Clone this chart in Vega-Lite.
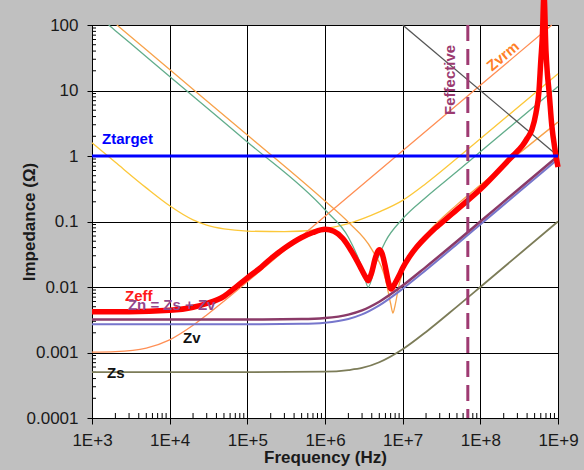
{
  "$schema": "https://vega.github.io/schema/vega-lite/v6.json",
  "width": 466,
  "height": 393,
  "autosize": {"type": "none"},
  "padding": {"left": 92, "top": 25, "right": 26, "bottom": 52},
  "background": "#c0c0c0",
  "config": {
    "view": {"stroke": "#000000", "strokeWidth": 1, "fill": "#ffffff"},
    "line": {"clip": true, "interpolate": "monotone"},
    "text": {"font": "Liberation Sans", "fontSize": 15, "fontWeight": "bold"}
  },
  "resolve": {"axis": {"x": "independent", "y": "independent"}, "scale": {"color": "independent"}},
  "datasets": {
    "curves": [
      {"s": "yel", "f": 1000, "z": 1.59},
      {"s": "yel", "f": 2000, "z": 0.8},
      {"s": "yel", "f": 5000, "z": 0.326},
      {"s": "yel", "f": 10000, "z": 0.174},
      {"s": "yel", "f": 20000, "z": 0.106},
      {"s": "yel", "f": 30000, "z": 0.088},
      {"s": "yel", "f": 50000, "z": 0.077},
      {"s": "yel", "f": 100000, "z": 0.0715},
      {"s": "yel", "f": 300000, "z": 0.07},
      {"s": "yel", "f": 1000000, "z": 0.078},
      {"s": "yel", "f": 2000000, "z": 0.093},
      {"s": "yel", "f": 5000000, "z": 0.14},
      {"s": "yel", "f": 10000000, "z": 0.21},
      {"s": "yel", "f": 20000000, "z": 0.38},
      {"s": "yel", "f": 50000000, "z": 0.92},
      {"s": "yel", "f": 100000000, "z": 1.83},
      {"s": "yel", "f": 1000000000, "z": 18},
      {"s": "teal", "f": 1640, "z": 100},
      {"s": "teal", "f": 2000, "z": 82},
      {"s": "teal", "f": 5000, "z": 32.8},
      {"s": "teal", "f": 10000, "z": 16.4},
      {"s": "teal", "f": 100000, "z": 1.64},
      {"s": "teal", "f": 1000000, "z": 0.151},
      {"s": "teal", "f": 2000000, "z": 0.0576},
      {"s": "teal", "f": 3000000, "z": 0.0195},
      {"s": "teal", "f": 3600000, "z": 0.01},
      {"s": "teal", "f": 4500000, "z": 0.0227},
      {"s": "teal", "f": 6000000, "z": 0.0495},
      {"s": "teal", "f": 10000000, "z": 0.11},
      {"s": "teal", "f": 20000000, "z": 0.235},
      {"s": "teal", "f": 50000000, "z": 0.58},
      {"s": "teal", "f": 100000000, "z": 1.16},
      {"s": "teal", "f": 1000000000, "z": 11.5},
      {"s": "org", "f": 2090, "z": 100},
      {"s": "org", "f": 5000, "z": 41.9},
      {"s": "org", "f": 10000, "z": 20.9},
      {"s": "org", "f": 100000, "z": 2.09},
      {"s": "org", "f": 1000000, "z": 0.205},
      {"s": "org", "f": 2000000, "z": 0.0973},
      {"s": "org", "f": 4000000, "z": 0.0376},
      {"s": "org", "f": 6000000, "z": 0.0132},
      {"s": "org", "f": 7000000, "z": 0.0056},
      {"s": "org", "f": 7500000, "z": 0.004},
      {"s": "org", "f": 8000000, "z": 0.0053},
      {"s": "org", "f": 9000000, "z": 0.0109},
      {"s": "org", "f": 10000000, "z": 0.0167},
      {"s": "org", "f": 15000000, "z": 0.0417},
      {"s": "org", "f": 20000000, "z": 0.0637},
      {"s": "org", "f": 50000000, "z": 0.181},
      {"s": "org", "f": 100000000, "z": 0.36},
      {"s": "org", "f": 1000000000, "z": 3.3},
      {"s": "Zvrm", "f": 1000, "z": 0.00101},
      {"s": "Zvrm", "f": 2000, "z": 0.00103},
      {"s": "Zvrm", "f": 5000, "z": 0.00117},
      {"s": "Zvrm", "f": 10000, "z": 0.00156},
      {"s": "Zvrm", "f": 20000, "z": 0.0026},
      {"s": "Zvrm", "f": 30000, "z": 0.00374},
      {"s": "Zvrm", "f": 50000, "z": 0.00608},
      {"s": "Zvrm", "f": 100000, "z": 0.012},
      {"s": "Zvrm", "f": 1000000, "z": 0.12},
      {"s": "Zvrm", "f": 10000000, "z": 1.2},
      {"s": "Zvrm", "f": 100000000, "z": 12},
      {"s": "Zvrm", "f": 833000000, "z": 100},
      {"s": "diag", "f": 10000000, "z": 100},
      {"s": "diag", "f": 1000000000, "z": 1},
      {"s": "Zs", "f": 1000, "z": 0.0005},
      {"s": "Zs", "f": 100000, "z": 0.0005},
      {"s": "Zs", "f": 1000000, "z": 0.00051},
      {"s": "Zs", "f": 2000000, "z": 0.00054},
      {"s": "Zs", "f": 3000000, "z": 0.00058},
      {"s": "Zs", "f": 5000000, "z": 0.00071},
      {"s": "Zs", "f": 10000000, "z": 0.00112},
      {"s": "Zs", "f": 20000000, "z": 0.00206},
      {"s": "Zs", "f": 50000000, "z": 0.00502},
      {"s": "Zs", "f": 100000000, "z": 0.01},
      {"s": "Zs", "f": 1000000000, "z": 0.1},
      {"s": "Zv", "f": 1000, "z": 0.0027},
      {"s": "Zv", "f": 100000, "z": 0.0027},
      {"s": "Zv", "f": 500000, "z": 0.00274},
      {"s": "Zv", "f": 1000000, "z": 0.00285},
      {"s": "Zv", "f": 2000000, "z": 0.00325},
      {"s": "Zv", "f": 3000000, "z": 0.00382},
      {"s": "Zv", "f": 5000000, "z": 0.00525},
      {"s": "Zv", "f": 10000000, "z": 0.0094},
      {"s": "Zv", "f": 20000000, "z": 0.0182},
      {"s": "Zv", "f": 50000000, "z": 0.045},
      {"s": "Zv", "f": 100000000, "z": 0.09},
      {"s": "Zv", "f": 300000000, "z": 0.27},
      {"s": "Zv", "f": 1000000000, "z": 0.9},
      {"s": "Zn", "f": 1000, "z": 0.0032},
      {"s": "Zn", "f": 100000, "z": 0.0032},
      {"s": "Zn", "f": 500000, "z": 0.00324},
      {"s": "Zn", "f": 1000000, "z": 0.00336},
      {"s": "Zn", "f": 2000000, "z": 0.00379},
      {"s": "Zn", "f": 3000000, "z": 0.0044},
      {"s": "Zn", "f": 5000000, "z": 0.00596},
      {"s": "Zn", "f": 10000000, "z": 0.0105},
      {"s": "Zn", "f": 20000000, "z": 0.0203},
      {"s": "Zn", "f": 50000000, "z": 0.05},
      {"s": "Zn", "f": 100000000, "z": 0.1},
      {"s": "Zn", "f": 300000000, "z": 0.3},
      {"s": "Zn", "f": 1000000000, "z": 1.0},
      {"s": "Zeff", "f": 1000, "z": 0.0042},
      {"s": "Zeff", "f": 3000, "z": 0.0042},
      {"s": "Zeff", "f": 10000, "z": 0.0044},
      {"s": "Zeff", "f": 20000, "z": 0.0049},
      {"s": "Zeff", "f": 30000, "z": 0.0056},
      {"s": "Zeff", "f": 50000, "z": 0.0072},
      {"s": "Zeff", "f": 70000, "z": 0.0098},
      {"s": "Zeff", "f": 100000, "z": 0.0138},
      {"s": "Zeff", "f": 150000, "z": 0.02},
      {"s": "Zeff", "f": 200000, "z": 0.027},
      {"s": "Zeff", "f": 300000, "z": 0.039},
      {"s": "Zeff", "f": 500000, "z": 0.057},
      {"s": "Zeff", "f": 700000, "z": 0.068},
      {"s": "Zeff", "f": 1000000, "z": 0.076},
      {"s": "Zeff", "f": 1300000, "z": 0.071},
      {"s": "Zeff", "f": 1700000, "z": 0.055},
      {"s": "Zeff", "f": 2200000, "z": 0.035},
      {"s": "Zeff", "f": 2800000, "z": 0.021},
      {"s": "Zeff", "f": 3300000, "z": 0.0145},
      {"s": "Zeff", "f": 3600000, "z": 0.0125},
      {"s": "Zeff", "f": 3950000, "z": 0.016},
      {"s": "Zeff", "f": 4500000, "z": 0.029},
      {"s": "Zeff", "f": 5000000, "z": 0.037},
      {"s": "Zeff", "f": 5400000, "z": 0.033},
      {"s": "Zeff", "f": 6000000, "z": 0.02},
      {"s": "Zeff", "f": 6600000, "z": 0.0115},
      {"s": "Zeff", "f": 7100000, "z": 0.0093},
      {"s": "Zeff", "f": 8000000, "z": 0.0115},
      {"s": "Zeff", "f": 9000000, "z": 0.015},
      {"s": "Zeff", "f": 10000000, "z": 0.0195},
      {"s": "Zeff", "f": 12000000, "z": 0.028},
      {"s": "Zeff", "f": 15000000, "z": 0.04},
      {"s": "Zeff", "f": 20000000, "z": 0.058},
      {"s": "Zeff", "f": 25000000, "z": 0.075},
      {"s": "Zeff", "f": 30000000, "z": 0.09},
      {"s": "Zeff", "f": 50000000, "z": 0.152},
      {"s": "Zeff", "f": 100000000, "z": 0.31},
      {"s": "Zeff", "f": 200000000, "z": 0.72},
      {"s": "Zeff", "f": 260000000, "z": 1.0},
      {"s": "Zeff", "f": 350000000, "z": 1.45},
      {"s": "Zeff", "f": 400000000, "z": 1.85},
      {"s": "Zeff", "f": 460000000, "z": 2.5},
      {"s": "Zeff", "f": 520000000, "z": 4.5},
      {"s": "Zeff", "f": 570000000, "z": 10},
      {"s": "Zeff", "f": 600000000, "z": 28},
      {"s": "Zeff", "f": 630000000, "z": 70},
      {"s": "Zeff", "f": 660000000, "z": 300},
      {"s": "Zeff", "f": 700000000, "z": 40},
      {"s": "Zeff", "f": 730000000, "z": 18},
      {"s": "Zeff", "f": 765000000, "z": 10},
      {"s": "Zeff", "f": 830000000, "z": 3.0},
      {"s": "Zeff", "f": 920000000, "z": 1.2},
      {"s": "Zeff", "f": 1000000000, "z": 0.68},
      {"s": "Zt", "f": 1000, "z": 1},
      {"s": "Zt", "f": 1000000000, "z": 1}
    ],
    "labels": [
      {"t": "Ztarget", "f": 1350, "z": 1.82},
      {"t": "Zeff", "f": 2660, "z": 0.0073},
      {"t": "Zn = Zs + Zv", "f": 2900, "z": 0.0053},
      {"t": "Zv", "f": 14900, "z": 0.00167},
      {"t": "Zs", "f": 1560, "z": 0.00049},
      {"t": "Zvrm", "f": 195000000, "z": 33.6},
      {"t": "Feffective", "f": 41000000, "z": 14.5}
    ],
    "feff": [{"f": 69000000}],
    "xminor": [
      {"f": 2000}, {"f": 3000}, {"f": 4000}, {"f": 5000}, {"f": 6000}, {"f": 7000}, {"f": 8000}, {"f": 9000},
      {"f": 20000}, {"f": 30000}, {"f": 40000}, {"f": 50000}, {"f": 60000}, {"f": 70000}, {"f": 80000}, {"f": 90000},
      {"f": 200000}, {"f": 300000}, {"f": 400000}, {"f": 500000}, {"f": 600000}, {"f": 700000}, {"f": 800000}, {"f": 900000},
      {"f": 2000000}, {"f": 3000000}, {"f": 4000000}, {"f": 5000000}, {"f": 6000000}, {"f": 7000000}, {"f": 8000000}, {"f": 9000000},
      {"f": 20000000}, {"f": 30000000}, {"f": 40000000}, {"f": 50000000}, {"f": 60000000}, {"f": 70000000}, {"f": 80000000}, {"f": 90000000},
      {"f": 200000000}, {"f": 300000000}, {"f": 400000000}, {"f": 500000000}, {"f": 600000000}, {"f": 700000000}, {"f": 800000000}, {"f": 900000000}
    ],
    "yminor": [
      {"z": 0.0002}, {"z": 0.0003}, {"z": 0.0004}, {"z": 0.0005}, {"z": 0.0006}, {"z": 0.0007}, {"z": 0.0008}, {"z": 0.0009},
      {"z": 0.002}, {"z": 0.003}, {"z": 0.004}, {"z": 0.005}, {"z": 0.006}, {"z": 0.007}, {"z": 0.008}, {"z": 0.009},
      {"z": 0.02}, {"z": 0.03}, {"z": 0.04}, {"z": 0.05}, {"z": 0.06}, {"z": 0.07}, {"z": 0.08}, {"z": 0.09},
      {"z": 0.2}, {"z": 0.3}, {"z": 0.4}, {"z": 0.5}, {"z": 0.6}, {"z": 0.7}, {"z": 0.8}, {"z": 0.9},
      {"z": 2}, {"z": 3}, {"z": 4}, {"z": 5}, {"z": 6}, {"z": 7}, {"z": 8}, {"z": 9},
      {"z": 20}, {"z": 30}, {"z": 40}, {"z": 50}, {"z": 60}, {"z": 70}, {"z": 80}, {"z": 90}
    ]
  },
  "layer": [
    {
      "data": {"name": "curves"},
      "transform": [{"filter": {"field": "s", "oneOf": ["yel", "teal", "org", "Zvrm", "diag"]}}],
      "mark": {"type": "line", "strokeWidth": 1.3},
      "encoding": {
        "x": {"field": "f", "type": "quantitative", "scale": {"type": "log", "domain": [1000, 1000000000]},
          "axis": {"orient": "bottom", "values": [1000, 10000, 100000, 1000000, 10000000, 100000000, 1000000000],
            "labelExpr": "'1E+' + round(log(datum.value) / LN10)",
            "grid": true, "gridColor": "#000000", "gridOpacity": 1, "gridWidth": 1,
            "domainColor": "#000000", "tickColor": "#000000", "tickSize": 6,
            "labelFont": "Liberation Sans", "labelFontSize": 17, "labelColor": "#1a1a1a", "labelPadding": 8,
            "labelFlush": false, "labelOverlap": false,
            "title": "Frequency (Hz)", "titleFont": "Liberation Sans", "titleFontSize": 17, "titleFontWeight": "bold", "titleColor": "#1a1a1a", "titlePadding": 1}},
        "y": {"field": "z", "type": "quantitative", "scale": {"type": "log", "domain": [0.0001, 100]},
          "axis": {"orient": "left", "values": [0.0001, 0.001, 0.01, 0.1, 1, 10, 100],
            "labelExpr": "datum.value >= 1 ? format(datum.value, 'd') : format(datum.value, '.4~f')",
            "grid": true, "gridColor": "#000000", "gridOpacity": 1, "gridWidth": 1,
            "domainColor": "#000000", "tickColor": "#000000", "tickSize": 5,
            "labelFont": "Liberation Sans", "labelFontSize": 17, "labelColor": "#1a1a1a", "labelPadding": 9,
            "labelFlush": false, "labelOverlap": false,
            "title": "Impedance (Ω)", "titleFont": "Liberation Sans", "titleFontSize": 17, "titleFontWeight": "bold", "titleColor": "#1a1a1a", "titlePadding": -12}},
        "color": {"field": "s", "type": "nominal", "legend": null,
          "scale": {"domain": ["yel", "teal", "org", "Zvrm", "diag"], "range": ["#fcc83a", "#62ad8b", "#f7a24a", "#ff8f55", "#555555"]}}
      }
    },
    {
      "data": {"name": "xminor"},
      "mark": {"type": "tick", "orient": "vertical", "size": 10, "thickness": 1, "color": "#000000", "clip": true, "opacity": 1},
      "encoding": {
        "x": {"field": "f", "type": "quantitative", "scale": {"type": "log", "domain": [1000, 1000000000]}, "axis": null},
        "y": {"datum": 0.0001, "type": "quantitative", "scale": {"type": "log", "domain": [0.0001, 100]}, "axis": null}
      }
    },
    {
      "data": {"name": "yminor"},
      "mark": {"type": "tick", "orient": "horizontal", "size": 8, "thickness": 1, "color": "#000000", "clip": true, "opacity": 1},
      "encoding": {
        "x": {"datum": 1000, "type": "quantitative", "scale": {"type": "log", "domain": [1000, 1000000000]}, "axis": null},
        "y": {"field": "z", "type": "quantitative", "scale": {"type": "log", "domain": [0.0001, 100]}, "axis": null}
      }
    },
    {
      "data": {"name": "curves"},
      "transform": [{"filter": "datum.s == 'Zs'"}],
      "mark": {"type": "line", "strokeWidth": 1.8, "color": "#7c7c58"},
      "encoding": {
        "x": {"field": "f", "type": "quantitative", "scale": {"type": "log", "domain": [1000, 1000000000]}, "axis": null},
        "y": {"field": "z", "type": "quantitative", "scale": {"type": "log", "domain": [0.0001, 100]}, "axis": null}
      }
    },
    {
      "data": {"name": "curves"},
      "transform": [{"filter": "datum.s == 'Zv'"}],
      "mark": {"type": "line", "strokeWidth": 2, "color": "#7676cc"},
      "encoding": {
        "x": {"field": "f", "type": "quantitative", "scale": {"type": "log", "domain": [1000, 1000000000]}, "axis": null},
        "y": {"field": "z", "type": "quantitative", "scale": {"type": "log", "domain": [0.0001, 100]}, "axis": null}
      }
    },
    {
      "data": {"name": "curves"},
      "transform": [{"filter": "datum.s == 'Zn'"}],
      "mark": {"type": "line", "strokeWidth": 2.5, "color": "#8a3a68"},
      "encoding": {
        "x": {"field": "f", "type": "quantitative", "scale": {"type": "log", "domain": [1000, 1000000000]}, "axis": null},
        "y": {"field": "z", "type": "quantitative", "scale": {"type": "log", "domain": [0.0001, 100]}, "axis": null}
      }
    },
    {
      "data": {"name": "curves"},
      "transform": [{"filter": "datum.s == 'Zeff'"}],
      "mark": {"type": "line", "strokeWidth": 5.5, "color": "#ff0000"},
      "encoding": {
        "x": {"field": "f", "type": "quantitative", "scale": {"type": "log", "domain": [1000, 1000000000]}, "axis": null},
        "y": {"field": "z", "type": "quantitative", "scale": {"type": "log", "domain": [0.0001, 100]}, "axis": null}
      }
    },
    {
      "data": {"name": "curves"},
      "transform": [{"filter": "datum.s == 'Zt'"}],
      "mark": {"type": "line", "strokeWidth": 3, "color": "#0000ff", "interpolate": "linear"},
      "encoding": {
        "x": {"field": "f", "type": "quantitative", "scale": {"type": "log", "domain": [1000, 1000000000]}, "axis": null},
        "y": {"field": "z", "type": "quantitative", "scale": {"type": "log", "domain": [0.0001, 100]}, "axis": null}
      }
    },
    {
      "data": {"name": "feff"},
      "mark": {"type": "rule", "strokeWidth": 3, "color": "#9e3a72", "strokeDash": [16, 8]},
      "encoding": {
        "x": {"field": "f", "type": "quantitative", "scale": {"type": "log", "domain": [1000, 1000000000]}, "axis": null}
      }
    },
    {
      "data": {"name": "labels"},
      "transform": [{"filter": {"field": "t", "oneOf": ["Ztarget", "Zeff", "Zn = Zs + Zv", "Zv", "Zs"]}}],
      "mark": {"type": "text", "align": "left", "baseline": "middle"},
      "encoding": {
        "x": {"field": "f", "type": "quantitative", "scale": {"type": "log", "domain": [1000, 1000000000]}, "axis": null},
        "y": {"field": "z", "type": "quantitative", "scale": {"type": "log", "domain": [0.0001, 100]}, "axis": null},
        "text": {"field": "t"},
        "color": {"field": "t", "type": "nominal", "legend": null,
          "scale": {"domain": ["Ztarget", "Zeff", "Zn = Zs + Zv", "Zv", "Zs"], "range": ["#0000ff", "#ff1a1a", "#93468a", "#111111", "#111111"]}}
      }
    },
    {
      "data": {"name": "labels"},
      "transform": [{"filter": "datum.t == 'Zvrm'"}],
      "mark": {"type": "text", "align": "center", "baseline": "middle", "angle": -40, "color": "#ff7f27"},
      "encoding": {
        "x": {"field": "f", "type": "quantitative", "scale": {"type": "log", "domain": [1000, 1000000000]}, "axis": null},
        "y": {"field": "z", "type": "quantitative", "scale": {"type": "log", "domain": [0.0001, 100]}, "axis": null},
        "text": {"field": "t"}
      }
    },
    {
      "data": {"name": "labels"},
      "transform": [{"filter": "datum.t == 'Feffective'"}],
      "mark": {"type": "text", "align": "center", "baseline": "middle", "angle": -90, "color": "#9b3a70"},
      "encoding": {
        "x": {"field": "f", "type": "quantitative", "scale": {"type": "log", "domain": [1000, 1000000000]}, "axis": null},
        "y": {"field": "z", "type": "quantitative", "scale": {"type": "log", "domain": [0.0001, 100]}, "axis": null},
        "text": {"field": "t"}
      }
    }
  ]
}
